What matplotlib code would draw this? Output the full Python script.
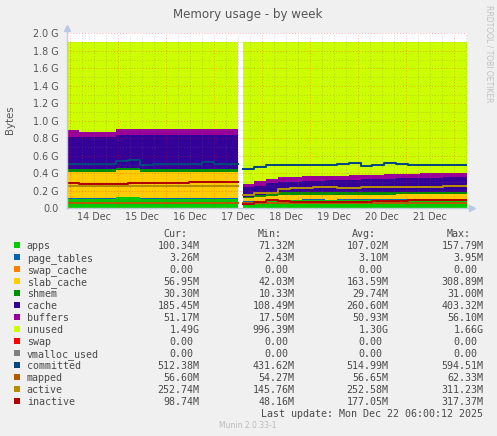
import numpy as np
import matplotlib
matplotlib.use("Agg")
import matplotlib.pyplot as plt

W, H = 497, 436

# time axis in days of December; two data segments with a gap on 17 Dec
t1 = np.linspace(13.9375, 17.506, 15)
t2 = np.linspace(17.594, 22.27, 20)

# stacked areas (GB), segment 1
apps1 = [0.111, 0.111, 0.111, 0.111, 0.125, 0.125, 0.111, 0.111, 0.111, 0.111, 0.111, 0.111, 0.111, 0.111]
page_tables1 = [0.003, 0.003, 0.003, 0.003, 0.003, 0.003, 0.003, 0.003, 0.003, 0.003, 0.003, 0.003, 0.003, 0.003]
slab1 = [0.305, 0.305, 0.305, 0.305, 0.307, 0.307, 0.305, 0.305, 0.305, 0.305, 0.305, 0.305, 0.305, 0.305]
shmem1 = [0.03, 0.03, 0.03, 0.03, 0.03, 0.03, 0.03, 0.03, 0.03, 0.03, 0.03, 0.03, 0.03, 0.03]
cache1 = [0.371, 0.371, 0.371, 0.371, 0.378, 0.378, 0.393, 0.393, 0.393, 0.393, 0.393, 0.393, 0.393, 0.393]
buffers1 = [0.07, 0.056, 0.056, 0.056, 0.062, 0.062, 0.062, 0.062, 0.062, 0.062, 0.062, 0.062, 0.062, 0.062]
unused1 = [1.015, 1.029, 1.029, 1.029, 1.0, 1.0, 1.001, 1.001, 1.001, 1.001, 1.001, 1.001, 1.001, 1.001]

# stacked areas (GB), segment 2
apps2 = [0.075, 0.085, 0.095, 0.097, 0.097, 0.098, 0.098, 0.097, 0.098, 0.098, 0.099, 0.098, 0.099, 0.1, 0.1, 0.099, 0.1, 0.1, 0.1]
page_tables2 = [0.003, 0.003, 0.003, 0.003, 0.003, 0.003, 0.003, 0.003, 0.003, 0.003, 0.003, 0.003, 0.003, 0.003, 0.003, 0.003, 0.003, 0.003, 0.003]
slab2 = [0.042, 0.045, 0.048, 0.054, 0.054, 0.054, 0.055, 0.055, 0.054, 0.055, 0.055, 0.056, 0.055, 0.056, 0.056, 0.057, 0.056, 0.057, 0.056]
shmem2 = [0.01, 0.015, 0.03, 0.03, 0.03, 0.03, 0.03, 0.03, 0.03, 0.03, 0.03, 0.03, 0.03, 0.03, 0.03, 0.03, 0.03, 0.03, 0.03]
cache2 = [0.117, 0.112, 0.114, 0.116, 0.121, 0.125, 0.129, 0.135, 0.135, 0.139, 0.143, 0.148, 0.153, 0.154, 0.156, 0.159, 0.161, 0.165, 0.166]
buffers2 = [0.033, 0.05, 0.05, 0.055, 0.055, 0.055, 0.053, 0.05, 0.052, 0.05, 0.05, 0.05, 0.05, 0.052, 0.052, 0.052, 0.052, 0.052, 0.05]
unused2 = [1.625, 1.595, 1.565, 1.55, 1.545, 1.54, 1.537, 1.535, 1.533, 1.53, 1.525, 1.52, 1.515, 1.51, 1.508, 1.505, 1.503, 1.498, 1.5]

# lines (GB)
committed1 = [0.506, 0.506, 0.506, 0.506, 0.545, 0.552, 0.497, 0.503, 0.503, 0.503, 0.503, 0.525, 0.51, 0.503]
mapped1 = [0.058, 0.057, 0.057, 0.057, 0.057, 0.057, 0.057, 0.057, 0.057, 0.057, 0.057, 0.057, 0.057, 0.057]
active1 = [0.255, 0.255, 0.255, 0.255, 0.255, 0.255, 0.255, 0.255, 0.255, 0.255, 0.26, 0.26, 0.26, 0.26]
inactive1 = [0.29, 0.278, 0.278, 0.278, 0.278, 0.285, 0.29, 0.29, 0.29, 0.29, 0.3, 0.3, 0.3, 0.3]

committed2 = [0.445, 0.475, 0.49, 0.495, 0.495, 0.495, 0.49, 0.495, 0.51, 0.515, 0.485, 0.49, 0.515, 0.505, 0.5, 0.5, 0.49, 0.495, 0.5]
mapped2 = [0.055, 0.055, 0.055, 0.055, 0.055, 0.055, 0.055, 0.055, 0.055, 0.055, 0.055, 0.055, 0.055, 0.055, 0.055, 0.055, 0.055, 0.055, 0.055]
active2 = [0.155, 0.17, 0.18, 0.215, 0.232, 0.236, 0.24, 0.238, 0.236, 0.236, 0.238, 0.245, 0.247, 0.247, 0.245, 0.247, 0.247, 0.25, 0.25]
inactive2 = [0.048, 0.07, 0.09, 0.08, 0.076, 0.076, 0.076, 0.076, 0.076, 0.076, 0.076, 0.08, 0.08, 0.08, 0.095, 0.095, 0.095, 0.095, 0.095]

# legend table
names = ["apps", "page_tables", "swap_cache", "slab_cache", "shmem", "cache", "buffers",
         "unused", "swap", "vmalloc_used", "committed", "mapped", "active", "inactive"]
colors = ["#00CC00", "#0066B3", "#FF8000", "#FFCC00", "#008F00", "#330099", "#990099",
          "#CCFF00", "#FF0000", "#808080", "#00487D", "#B35A00", "#B38F00", "#B30000"]
cur = ["100.34M", "3.26M", "0.00", "56.95M", "30.30M", "185.45M", "51.17M", "1.49G",
       "0.00", "0.00", "512.38M", "56.60M", "252.74M", "98.74M"]
vmin = ["71.32M", "2.43M", "0.00", "42.03M", "10.33M", "108.49M", "17.50M", "996.39M",
        "0.00", "0.00", "431.62M", "54.27M", "145.76M", "48.16M"]
avg = ["107.02M", "3.10M", "0.00", "163.59M", "29.74M", "260.60M", "50.93M", "1.30G",
       "0.00", "0.00", "514.99M", "56.65M", "252.58M", "177.05M"]
vmax = ["157.79M", "3.95M", "0.00", "308.89M", "31.00M", "403.32M", "56.10M", "1.66G",
        "0.00", "0.00", "594.51M", "62.33M", "311.23M", "317.37M"]
day_labels = ["14 Dec", "15 Dec", "16 Dec", "17 Dec", "18 Dec", "19 Dec", "20 Dec", "21 Dec"]

col = dict(zip(names, colors))
seg1 = {"apps": apps1, "page_tables": page_tables1, "slab_cache": slab1, "shmem": shmem1,
        "cache": cache1, "buffers": buffers1, "unused": unused1,
        "committed": committed1, "mapped": mapped1, "active": active1, "inactive": inactive1}
seg2 = {"apps": apps2, "page_tables": page_tables2, "slab_cache": slab2, "shmem": shmem2,
        "cache": cache2, "buffers": buffers2, "unused": unused2,
        "committed": committed2, "mapped": mapped2, "active": active2, "inactive": inactive2}
stack_order = ["apps", "page_tables", "slab_cache", "shmem", "cache", "buffers", "unused"]
line_order = ["committed", "mapped", "active", "inactive"]

fig = plt.figure(figsize=(W / 100, H / 100), dpi=100, facecolor="#F0F0F0")
ax = fig.add_axes([67 / W, 1 - 208.3 / H, 400 / W, 175 / H])
ax.set_facecolor("white")

def ext(v):
    v = np.asarray(v, float)
    return np.append(v, v[-1])

for t, seg in [(t1, seg1), (t2, seg2)]:
    base = np.zeros(len(t) - 1)
    for name in stack_order:
        top = base + np.asarray(seg[name])
        ax.fill_between(t, ext(base), ext(top), step="post", color=col[name],
                        lw=0, antialiased=False, zorder=1)
        base = top
    for name in line_order:
        ax.step(t, ext(seg[name]), where="post", color=col[name], lw=1.45, zorder=4)

# rrdtool-like dotted grid
red_grid = (1, 0, 0, 0.32)
gray_grid = (0.45, 0.45, 0.45, 0.3)
for d in np.arange(14, 22.3, 0.25):
    major = abs(d - round(d)) < 1e-6
    ax.axvline(d, color=red_grid if major else gray_grid,
               ls=(0, (1, 2)), lw=0.7, zorder=3)
for g in np.arange(0.1, 2.05, 0.1):
    major = round(g * 10) % 2 == 0
    ax.axhline(g, color=red_grid if major else gray_grid,
               ls=(0, (1, 2)), lw=0.7, zorder=3)

ax.set_xlim(13.9375, 22.2708)
ax.set_ylim(0, 2.0)
yt = np.arange(0, 2.01, 0.2)
ax.set_yticks(yt)
ax.set_yticklabels(["0.0"] + ["%.1f G" % v for v in yt[1:]])
ax.set_xticks(np.arange(14.5, 22, 1.0))
ax.set_xticklabels(day_labels)
ax.tick_params(axis="y", length=0, pad=5.8, labelsize=6.9, labelcolor="#555555")
ax.tick_params(axis="x", length=0, pad=3, labelsize=6.9, labelcolor="#555555")
for s in ax.spines.values():
    s.set_visible(False)
axc = "#C4C8D8"
ax.plot([0, 0], [0, 1.025], transform=ax.transAxes, color=axc, lw=1, clip_on=False, zorder=5)
ax.plot([0, 1.0075], [0, 0], transform=ax.transAxes, color=axc, lw=1, clip_on=False, zorder=5)
ax.plot([0], [1.03], marker="^", ms=4, color="#B8C8E8", transform=ax.transAxes, clip_on=False)
ax.plot([1.012], [0], marker=">", ms=4, color="#B8C8E8", transform=ax.transAxes, clip_on=False)

def fx(x):
    return x / W

def fy(y):
    return 1 - y / H

fig.text(fx(248), fy(18.3), "Memory usage - by week", ha="center", va="baseline",
         fontsize=8.6, color="#555555")
fig.text(fx(10), fy(120), "Bytes", rotation=90, ha="center", va="center",
         fontsize=7.3, color="#555555")
fig.text(fx(489.5), fy(5), "RRDTOOL / TOBI OETIKER", rotation=270, ha="center", va="top",
         fontsize=5.5, color="#C0C0C0")

mono = "DejaVu Sans Mono"
fs = 7.2
tc = "#4A4A4A"
cw = 6.0
hdr_x = [163, 258, 352, 447]
val_x = [199.3, 294.3, 388.3, 483.3]
for hx, h in zip(hdr_x, ["Cur:", "Min:", "Avg:", "Max:"]):
    fig.text(fx(hx), fy(236.7), h, family=mono, fontsize=fs, color=tc, va="baseline")
for i, name in enumerate(names):
    yb = 249 + 12 * i
    fig.patches.append(plt.Rectangle((fx(14), fy(yb - 1.3)), 6 / W, 6 / H,
                                     transform=fig.transFigure, color=col[name], lw=0))
    fig.text(fx(26.7), fy(yb), name, family=mono, fontsize=fs, color=tc, va="baseline")
    for vx, vals in zip(val_x, [cur, vmin, avg, vmax]):
        s = vals[i]
        off = cw if s[-1].isdigit() else 0
        fig.text(fx(vx - off), fy(yb), s, family=mono, fontsize=fs, color=tc,
                 ha="right", va="baseline")
fig.text(fx(483.3), fy(417.3), "Last update: Mon Dec 22 06:00:12 2025", family=mono,
         fontsize=fs, color=tc, ha="right", va="baseline")
fig.text(fx(248), fy(428.3), "Munin 2.0.33-1", fontsize=5.5, color="#BBBBBB",
         ha="center", va="baseline")

fig.savefig("out.png", dpi=100, facecolor=fig.get_facecolor())
